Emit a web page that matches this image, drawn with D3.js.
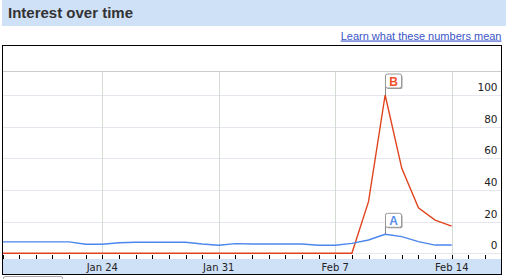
<!DOCTYPE html>
<html>
<head>
<meta charset="utf-8">
<script src="https://cdn.jsdelivr.net/npm/d3@7"></script>
<style>
  body { margin: 0; background: #fff; }
  svg { display: block; }
</style>
</head>
<body>
<svg id="chart" width="506" height="279"></svg>
<script>
// daily values
const days = ['2010-01-18','2010-01-19','2010-01-20','2010-01-21','2010-01-22','2010-01-23','2010-01-24',
              '2010-01-25','2010-01-26','2010-01-27','2010-01-28','2010-01-29','2010-01-30','2010-01-31',
              '2010-02-01','2010-02-02','2010-02-03','2010-02-04','2010-02-05','2010-02-06','2010-02-07',
              '2010-02-08','2010-02-09','2010-02-10','2010-02-11','2010-02-12','2010-02-13','2010-02-14']
const seriesA = [7.2, 7.2, 7.2, 7.2, 7.2, 5.7, 5.7,
                 6.7, 7, 7, 7, 7, 5.9, 5.1,
                 6.1, 5.9, 5.9, 5.9, 5.9, 5.1, 5.1,
                 6.3, 8.4, 12, 10.5, 7.4, 5.2, 5.2]
const seriesB = [0, 0, 0, 0, 0, 0, 0,
                 0, 0, 0, 0, 0, 0, 0,
                 0, 0, 0, 0, 0, 0, 0,
                 0, 32.6, 100, 53.7, 28.8, 21, 17.2]
const yTicks = [0, 20, 40, 60, 80, 100]
const weekLabels = ['Jan 24', 'Jan 31', 'Feb 7', 'Feb 14']
const weekDays = ['2010-01-24', '2010-01-31', '2010-02-07', '2010-02-14']
const flags = [{name: 'A', series: seriesA, color: '#5a8ee8'}, {name: 'B', series: seriesB, color: '#f0502a'}]

const parse = d3.utcParse('%Y-%m-%d')
const dates = days.map(parse)

const svg = d3.select('#chart')
const boxL = 2.5, boxR = 501.5, boxT = 45.5, boxB = 274.5
const plotT = 71.5, bandT = 259

// header
svg.append('rect').attr('x', 2).attr('y', 0).attr('width', 504).attr('height', 26).attr('fill', '#cfe1f7')
svg.append('text').attr('x', 8).attr('y', 18)
    .attr('font-family', 'Liberation Sans, Arial, sans-serif').attr('font-weight', 'bold')
    .attr('font-size', 15).attr('fill', '#333').text('Interest over time')

svg.append('text').attr('x', 501.5).attr('y', 39.5).attr('text-anchor', 'end')
    .attr('font-family', 'Liberation Sans, Arial, sans-serif').attr('font-size', 11)
    .attr('fill', '#3b55c8').attr('text-decoration', 'underline').text('Learn what these numbers mean')

const x = d3.scaleUtc().domain([dates[0], dates[dates.length - 1]]).range([2.5, 451.7])
const y = d3.scaleLinear().domain([0, 100]).range([253.3, 95])

// horizontal gridlines
svg.append('g').selectAll('line').data(yTicks).enter().append('line')
    .attr('x1', boxL).attr('x2', boxR)
    .attr('y1', d => Math.round(y(d)) + 0.5).attr('y2', d => Math.round(y(d)) + 0.5)
    .attr('stroke', '#e6e6ee')
svg.append('line').attr('x1', boxL).attr('x2', boxR).attr('y1', plotT).attr('y2', plotT).attr('stroke', '#cccccc')

// vertical week gridlines
svg.append('g').selectAll('line').data(weekDays.map(parse)).enter().append('line')
    .attr('x1', d => Math.round(x(d)) + 0.5).attr('x2', d => Math.round(x(d)) + 0.5)
    .attr('y1', plotT).attr('y2', bandT)
    .attr('stroke', '#d3dbd3')

// y labels
svg.append('g').selectAll('text').data(yTicks).enter().append('text')
    .attr('x', 497.5).attr('y', d => y(d) - 4).attr('text-anchor', 'end')
    .attr('font-family', 'DejaVu Sans, Verdana, sans-serif').attr('font-size', 10.5)
    .attr('fill', '#222').text(d => d)

// x band + day ticks
svg.append('rect').attr('x', boxL).attr('y', bandT).attr('width', boxR - boxL).attr('height', boxB - bandT)
    .attr('fill', '#cfe1f7')
const tickDays = d3.utcDay.range(dates[0], d3.utcDay.offset(dates[dates.length - 1], 3))
svg.append('g').selectAll('line').data(tickDays).enter().append('line')
    .attr('x1', d => Math.round(x(d)) + 0.5).attr('x2', d => Math.round(x(d)) + 0.5)
    .attr('y1', 255).attr('y2', bandT)
    .attr('stroke', '#000')
svg.append('g').selectAll('text').data(weekLabels).enter().append('text')
    .attr('x', (d, i) => x(parse(weekDays[i]))).attr('y', 270.5).attr('text-anchor', 'middle')
    .attr('font-family', 'DejaVu Sans, Verdana, sans-serif').attr('font-size', 10)
    .attr('fill', '#222').text(d => d)

// lines
const line = s => d3.line().x((d, i) => x(dates[i])).y(d => y(d))(s)
svg.append('path').attr('d', line(seriesB)).attr('fill', 'none').attr('stroke', '#e0441e').attr('stroke-width', 1.4)
svg.append('path').attr('d', line(seriesA)).attr('fill', 'none').attr('stroke', '#4a86ec').attr('stroke-width', 1.4)

// flags at each peak
flags.forEach(f => {
    const i = f.series.indexOf(d3.max(f.series))
    const px = Math.round(x(dates[i])) + 0.5
    const py = y(f.series[i])
    const g = svg.append('g')
    g.append('line').attr('x1', px).attr('x2', px).attr('y1', py - 20).attr('y2', py).attr('stroke', '#888')
    g.append('rect').attr('x', px + 1).attr('y', py - 20).attr('width', 16).attr('height', 14).attr('rx', 2)
        .attr('fill', '#999')
    g.append('rect').attr('x', px).attr('y', py - 21).attr('width', 16).attr('height', 14).attr('rx', 2)
        .attr('fill', '#fff').attr('stroke', '#999')
    g.append('text').attr('x', px + 8).attr('y', py - 9.5).attr('text-anchor', 'middle')
        .attr('font-family', 'Liberation Sans, Arial, sans-serif').attr('font-weight', 'bold')
        .attr('font-size', 12).attr('fill', f.color).text(f.name)
})

// chart border
svg.append('rect').attr('x', boxL).attr('y', boxT).attr('width', boxR - boxL).attr('height', boxB - boxT)
    .attr('fill', 'none').attr('stroke', '#000')

// top of the next control below
svg.append('path').attr('d', 'M3.5,279 V278 Q3.5,276.5 5,276.5 H61 Q62.5,276.5 62.5,278 V279')
    .attr('fill', 'none').attr('stroke', '#aaa')
</script>
</body>
</html>
